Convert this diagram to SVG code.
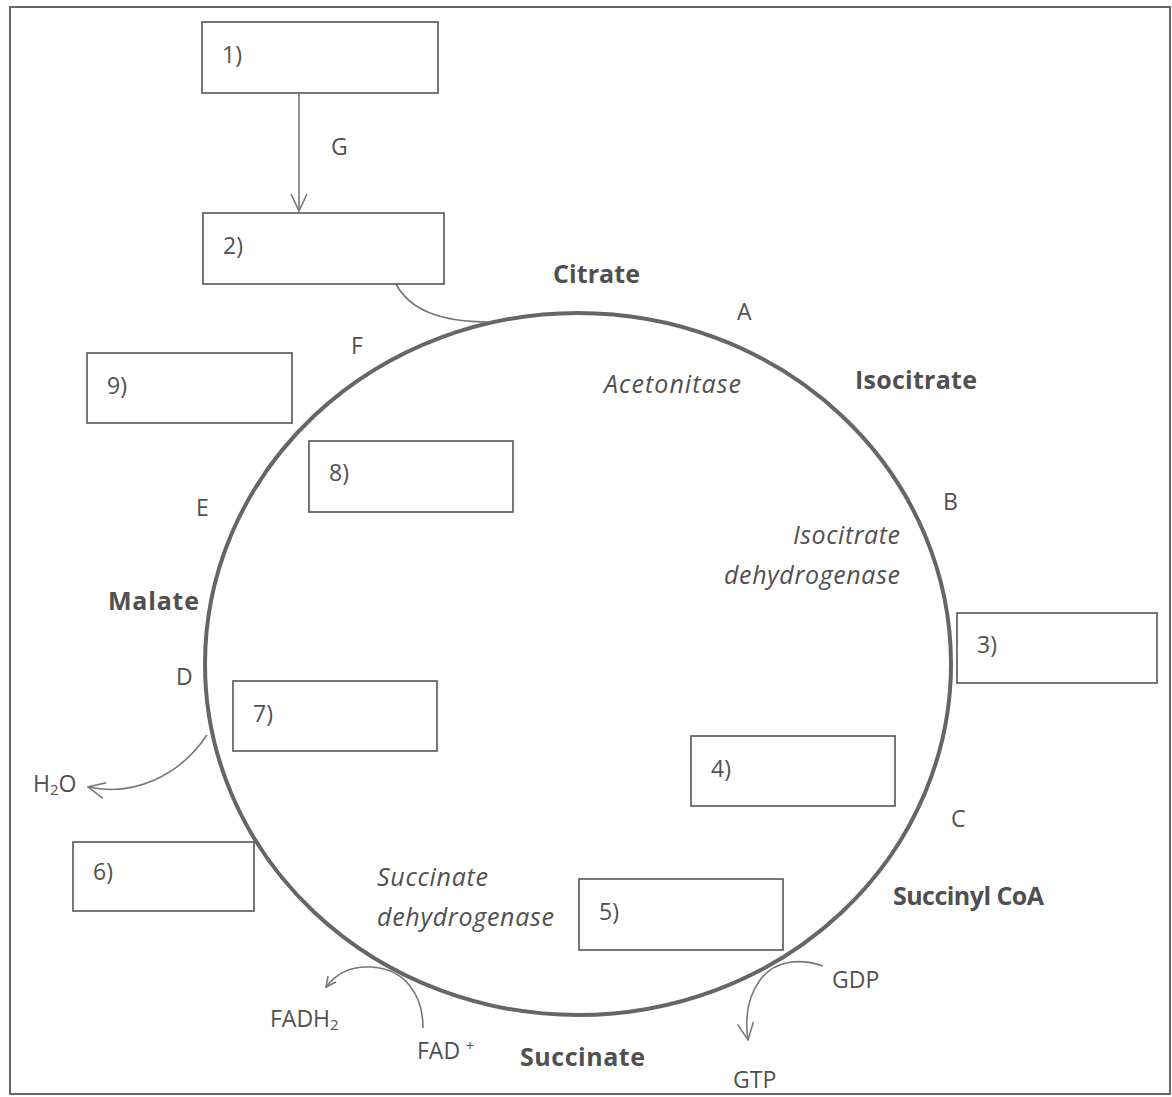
<svg xmlns="http://www.w3.org/2000/svg" width="1172" height="1097" viewBox="0 0 1172 1097">
<defs>
<style>
.t{font-family:"Open Sans","Liberation Sans",sans-serif;fill:#505050;font-size:23px}
.b{font-weight:bold;font-size:25px}
.i{font-style:italic;font-size:25px}
.box{fill:#fff;stroke:#555;stroke-width:1.6}
.con{fill:none;stroke:#777;stroke-width:1.6}
</style>
<marker id="ah" viewBox="0 0 12 12" refX="11" refY="6" markerWidth="12" markerHeight="12" markerUnits="userSpaceOnUse" orient="auto">
<path d="M1,1 L11,6 L1,11" fill="none" stroke="#777" stroke-width="1.6"/>
</marker>
<marker id="ah2" viewBox="0 0 20 20" refX="19" refY="10" markerWidth="20" markerHeight="20" markerUnits="userSpaceOnUse" orient="auto">
<path d="M2,2 L19,10 L2,18" fill="none" stroke="#777" stroke-width="1.6"/>
</marker>
</defs>
<rect x="0" y="0" width="1172" height="1097" fill="#fff"/>
<rect x="10" y="7" width="1160" height="1087" fill="none" stroke="#666" stroke-width="2"/>
<g id="cycle"><ellipse cx="578" cy="664" rx="373" ry="351" fill="none" stroke="#666" stroke-width="4"/></g>
<g id="connectors">
<path class="con" d="M299,93 L299,211" marker-end="url(#ah2)"/>
<path class="con" d="M396,284 C410,310 440,322 490,322"/>
<path class="con" d="M207,735 C180,775 135,797 88,787" marker-end="url(#ah2)"/>
<path class="con" d="M423,1028 C423,995 405,968 370,967 C348,966 335,975 326,987" marker-end="url(#ah)"/>
<path class="con" d="M823,966 C800,958 775,960 760,980 C747,998 745,1020 748,1040" marker-end="url(#ah2)"/>
</g>
<g id="n1"><rect class="box" x="202" y="22" width="236" height="71"/><text class="t" x="222" y="63">1)</text></g>
<g id="n2"><rect class="box" x="203" y="213" width="241" height="71"/><text class="t" x="223" y="254">2)</text></g>
<g id="n3"><rect class="box" x="957" y="613" width="200" height="70"/><text class="t" x="977" y="653">3)</text></g>
<g id="n4"><rect class="box" x="691" y="736" width="204" height="70"/><text class="t" x="711" y="777">4)</text></g>
<g id="n5"><rect class="box" x="579" y="879" width="204" height="71"/><text class="t" x="599" y="920">5)</text></g>
<g id="n6"><rect class="box" x="73" y="842" width="181" height="69"/><text class="t" x="93" y="880">6)</text></g>
<g id="n7"><rect class="box" x="233" y="681" width="204" height="70"/><text class="t" x="253" y="722">7)</text></g>
<g id="n8"><rect class="box" x="309" y="441" width="204" height="71"/><text class="t" x="329" y="481">8)</text></g>
<g id="n9"><rect class="box" x="87" y="353" width="205" height="70"/><text class="t" x="107" y="394">9)</text></g>
<g id="labels">
<text class="t b" x="553" y="283" textLength="87">Citrate</text>
<text class="t b" x="855" y="389" textLength="122">Isocitrate</text>
<text class="t b" x="108" y="610" textLength="91">Malate</text>
<text class="t b" x="893" y="905" textLength="151">Succinyl CoA</text>
<text class="t b" x="520" y="1066" textLength="125">Succinate</text>
<text class="t i" x="604" y="393" textLength="137">Acetonitase</text>
<text class="t i" x="793" y="544" textLength="107">Isocitrate</text>
<text class="t i" x="724" y="584" textLength="176">dehydrogenase</text>
<text class="t i" x="377" y="886" textLength="111">Succinate</text>
<text class="t i" x="377" y="926" textLength="177">dehydrogenase</text>
<text class="t" x="331" y="155">G</text>
<text class="t" x="737" y="320">A</text>
<text class="t" x="943" y="510">B</text>
<text class="t" x="951" y="827">C</text>
<text class="t" x="176" y="685">D</text>
<text class="t" x="196" y="516">E</text>
<text class="t" x="351" y="354">F</text>
<text class="t" x="33" y="792">H<tspan font-size="15" dy="3">2</tspan><tspan dy="-3">O</tspan></text>
<text class="t" x="270" y="1027">FADH<tspan font-size="15" dy="3">2</tspan></text>
<text class="t" x="417" y="1059">FAD <tspan font-size="14" dy="-8">+</tspan></text>
<text class="t" x="832" y="988">GDP</text>
<text class="t" x="733" y="1088">GTP</text>
</g>
</svg>
